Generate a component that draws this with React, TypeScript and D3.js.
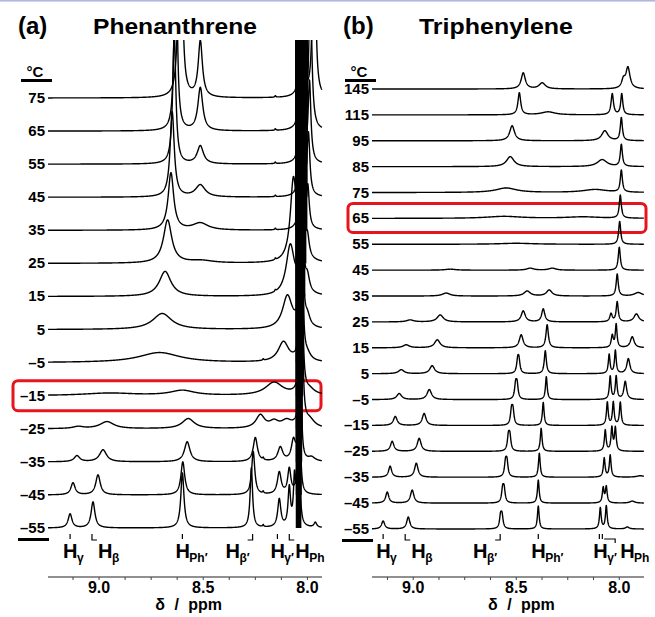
import React, { useEffect, useRef } from 'react';
import * as d3 from 'd3';

// peak = [ppm, intensity, half width (ppm)]
type Peak = [number, number, number];

const phenTemps = [75, 65, 55, 45, 35, 25, 15, 5, -5, -15, -25, -35, -45, -55];
const phenPeaks: Peak[][] = [
  [[8.61, 500, 0.006], [8.514, 56, 0.012], [8.154, 1.5, 0.003], [8.029, 400, 0.004], [7.968, 300, 0.006]],
  [[8.632, 250, 0.007], [8.514, 43, 0.014], [8.154, 1.5, 0.003], [8.029, 400, 0.004], [7.986, 150, 0.008]],
  [[8.639, 130, 0.009], [8.514, 18, 0.018], [8.154, 1.5, 0.003], [8.029, 400, 0.004], [7.99, 80, 0.008]],
  [[8.649, 85, 0.012], [8.514, 12, 0.028], [8.154, 1.5, 0.003], [8.029, 400, 0.004], [7.995, 60, 0.008]],
  [[8.655, 57, 0.016], [8.514, 7, 0.045], [8.154, 1.5, 0.003], [8.029, 400, 0.004], [7.998, 40, 0.008]],
  [[8.671, 43, 0.024], [8.51, 2.5, 0.07], [8.154, 1.5, 0.003], [8.067, 82, 0.018], [8.029, 400, 0.004], [8.0, 20, 0.01]],
  [[8.683, 25, 0.034], [8.154, 1.5, 0.003], [8.082, 50, 0.024], [8.029, 400, 0.004], [8.0, 15, 0.012]],
  [[8.697, 16, 0.055], [8.096, 33, 0.028], [8.029, 400, 0.004], [8.0, 10, 0.015]],
  [[8.71, 10, 0.12], [8.212, 1.5, 0.003], [8.115, 20, 0.03], [8.029, 400, 0.004], [8.0, 6, 0.02]],
  [[8.95, 2.5, 0.15], [8.6, 5, 0.07], [8.16, 13, 0.05], [8.029, 400, 0.004], [7.99, 5, 0.03]],
  [[9.1, 2, 0.03], [8.962, 7, 0.04], [8.572, 10, 0.035], [8.226, 13, 0.025], [8.16, 6, 0.025], [8.1, 7, 0.03], [8.029, 400, 0.004], [7.99, 8, 0.03]],
  [[9.106, 6, 0.016], [8.981, 12, 0.02], [8.577, 20, 0.016], [8.25, 24, 0.012], [8.212, 2, 0.003], [8.13, 14, 0.014], [8.067, 20, 0.012], [8.035, 400, 0.003], [7.98, 4, 0.02]],
  [[9.125, 12, 0.012], [9.005, 20, 0.013], [8.598, 33, 0.011], [8.26, 43, 0.009], [8.212, 2, 0.003], [8.135, 22, 0.011], [8.087, 25, 0.009], [8.04, 400, 0.003]],
  [[9.139, 14, 0.011], [9.029, 26, 0.011], [8.6, 55, 0.009], [8.269, 60, 0.007], [8.212, 2, 0.003], [8.135, 28, 0.009], [8.087, 38, 0.007], [8.062, 45, 0.006], [8.043, 400, 0.003], [7.962, 5, 0.008]],
];
// off-scale H_Ph signal: [from ppm, to ppm]
const phenBands: [number, number][] = [
  [8.058, 7.998], [8.058, 7.998], [8.058, 8.0], [8.058, 8.0], [8.058, 8.0], [8.056, 8.005], [8.056, 8.01],
  [8.056, 8.015], [8.056, 8.02], [8.056, 8.02], [8.056, 8.022], [8.056, 8.025], [8.056, 8.027], [8.056, 8.029],
];

const triTemps = [145, 115, 95, 85, 75, 65, 55, 45, 35, 25, 15, 5, -5, -15, -25, -35, -45, -55];
const triPeaks: Peak[][] = [
  [[8.466, 16, 0.012], [8.374, 6, 0.018], [7.98, 8, 0.01], [7.958, 21, 0.012]],
  [[8.485, 22, 0.008], [8.345, 3, 0.04], [8.034, 21, 0.007], [7.988, 21, 0.006]],
  [[8.52, 15, 0.014], [8.07, 10, 0.018], [7.99, 23, 0.006]],
  [[8.529, 10, 0.022], [8.083, 7, 0.028], [7.99, 22, 0.006]],
  [[8.549, 4.5, 0.06], [8.117, 3, 0.07], [7.99, 22, 0.006]],
  [[8.56, 2, 0.1], [8.175, 1.5, 0.1], [7.995, 23, 0.006]],
  [[8.5, 1, 0.1], [7.998, 23, 0.006]],
  [[8.82, 1, 0.03], [8.432, 2, 0.02], [8.325, 2, 0.02], [8.0, 23, 0.006]],
  [[8.84, 3, 0.022], [8.447, 5, 0.018], [8.34, 6, 0.016], [8.01, 22, 0.006], [7.908, 3.5, 0.022]],
  [[9.015, 2, 0.02], [8.869, 7, 0.018], [8.466, 11, 0.012], [8.369, 13, 0.009], [8.04, 8, 0.007], [8.01, 20, 0.006], [7.917, 8, 0.014]],
  [[9.034, 3, 0.018], [8.883, 8, 0.016], [8.476, 13, 0.011], [8.35, 23, 0.007], [8.034, 12, 0.006], [8.015, 23, 0.005], [7.937, 11, 0.011]],
  [[9.058, 4, 0.016], [8.908, 8, 0.014], [8.493, 12, 0.006], [8.487, 12, 0.006], [8.359, 23, 0.006], [8.049, 19, 0.005], [8.019, 23, 0.005], [7.956, 15, 0.009]],
  [[9.068, 6, 0.014], [8.922, 10, 0.013], [8.503, 14, 0.006], [8.496, 14, 0.006], [8.354, 23, 0.005], [8.044, 23, 0.005], [8.015, 23, 0.005], [7.971, 18, 0.008]],
  [[9.087, 9, 0.011], [8.947, 12, 0.011], [8.523, 14, 0.006], [8.516, 14, 0.006], [8.369, 23, 0.005], [8.058, 23, 0.005], [8.029, 23, 0.005], [7.995, 23, 0.005]],
  [[9.102, 10, 0.01], [8.971, 13, 0.011], [8.538, 14, 0.006], [8.531, 14, 0.006], [8.379, 23, 0.005], [8.068, 21, 0.005], [8.036, 23, 0.005], [8.019, 23, 0.005]],
  [[9.112, 11, 0.009], [8.985, 14, 0.01], [8.552, 14, 0.006], [8.545, 14, 0.006], [8.388, 24, 0.005], [8.073, 19, 0.005], [8.044, 22, 0.005], [7.898, 1.5, 0.02]],
  [[9.126, 11, 0.009], [9.005, 13, 0.01], [8.566, 13, 0.006], [8.559, 13, 0.006], [8.393, 23, 0.005], [8.078, 15, 0.005], [8.063, 16, 0.005], [7.937, 2, 0.014]],
  [[9.146, 8, 0.009], [9.024, 12, 0.009], [8.576, 12, 0.006], [8.569, 12, 0.006], [8.393, 23, 0.005], [8.092, 21, 0.005], [8.063, 23, 0.005], [7.961, 2, 0.01]],
];

const ppmTicks = [9.0, 8.5, 8.0];

// [subscript, ppm, marker]
const phenLabels: [string, number, string][] = [
  ['γ', 9.139, 'tick'], ['β', 9.034, 'left'], ['Ph′', 8.6, 'tick'],
  ['β′', 8.263, 'right'], ['γ′', 8.144, 'tick'], ['Ph', 8.087, 'left'],
];
const triLabels: [string, number, string][] = [
  ['γ', 9.146, 'tick'], ['β', 9.039, 'left'], ['β′', 8.578, 'right'],
  ['Ph′', 8.393, 'tick'], ['γ′', 8.087, 'double'], ['Ph', 8.02, 'hook'],
];

const FONT = '"Liberation Sans", Arial, Helvetica, sans-serif';

const lorentz = (peaks: Peak[], p: number) =>
  d3.sum(peaks, ([c, h, w]) => (h * w * w) / ((p - c) * (p - c) + w * w));

function drawPanel(svg: any, cfg: any) {
  const x = d3.scaleLinear().domain(cfg.domain).range(cfg.range);
  const y = d3.scalePoint<number>().domain(cfg.temps).range(cfg.rows);
  const inten = d3.scaleLinear().domain([0, 100]).range([0, 100]);
  const [x0, x1] = cfg.range;
  const g = svg.append('g').attr('font-family', FONT).attr('font-weight', 'bold');

  g.append('text').attr('x', cfg.letterX).attr('y', 34).attr('font-size', 24).text(cfg.letter);
  g.append('text').attr('x', cfg.titleX).attr('y', 34).attr('font-size', 22)
    .attr('textLength', cfg.titleLen).attr('lengthAdjust', 'spacingAndGlyphs').text(cfg.title);

  // highlight box
  const by = y(cfg.boxTemp)!;
  g.append('rect').attr('x', cfg.box[0]).attr('y', by + cfg.box[2])
    .attr('width', cfg.box[1] - cfg.box[0]).attr('height', cfg.box[3] - cfg.box[2])
    .attr('rx', 5).attr('fill', 'none').attr('stroke', '#e8141c').attr('stroke-width', 3);

  const clipId = 'clip-' + cfg.id;
  svg.append('clipPath').attr('id', clipId).append('rect')
    .attr('x', x0 - 2).attr('y', cfg.clipTop).attr('width', x1 - x0 + 4).attr('height', 600);

  const samples = d3.range(cfg.domain[0], cfg.domain[1], -0.0008);
  const traces = g.append('g').attr('clip-path', `url(#${clipId})`);

  cfg.temps.forEach((t: number, i: number) => {
    const base = y(t)!;
    const pts = samples.map((p: number) => [p, lorentz(cfg.peaks[i], p)]);
    const line = d3.line<number[]>().x(d => x(d[0])).y(d => base - inten(d[1]));
    traces.append('path').attr('d', line(pts)).attr('fill', 'none')
      .attr('stroke', '#000').attr('stroke-width', 1.4).attr('stroke-linejoin', 'round');
    if (cfg.bands) {
      const [b0, b1] = cfg.bands[i];
      traces.append('rect').attr('x', x(b0)).attr('width', x(b1) - x(b0))
        .attr('y', cfg.clipTop).attr('height', base - cfg.clipTop).attr('fill', '#000');
    }
    g.append('text').attr('x', x0 - 3).attr('y', base + 5).attr('text-anchor', 'end')
      .attr('font-size', 15).text(t < 0 ? '–' + Math.abs(t) : String(t));
  });

  // °C header and bottom rule
  const bot = cfg.rows[1];
  g.append('text').attr('x', x0 - 13).attr('y', 77).attr('text-anchor', 'middle').attr('font-size', 15).text('°C');
  g.append('rect').attr('x', x0 - 27).attr('y', 79).attr('width', 31).attr('height', 3).attr('fill', '#000');
  g.append('rect').attr('x', x0 - 30).attr('y', bot + 10).attr('width', 31).attr('height', 3).attr('fill', '#000');

  // peak assignments
  const ly = 558;
  cfg.labels.forEach(([sub, ppm, kind]: [string, number, string]) => {
    const mx = x(ppm);
    const t = g.append('text').attr('y', ly).attr('font-size', 20);
    const mark = (d: string) => g.append('path').attr('d', d).attr('fill', 'none').attr('stroke', '#000').attr('stroke-width', 1.2);
    if (kind === 'tick') {
      t.attr('x', mx - 7);
      mark(`M${mx},534V539`);
    } else if (kind === 'double') {
      t.attr('x', mx - 8);
      mark(`M${mx - 2},534V539M${mx + 1},534V539`);
    } else if (kind === 'left') {
      t.attr('x', mx + 6);
      mark(`M${mx},534V540H${mx + 5}`);
    } else if (kind === 'right') {
      t.attr('x', mx - 3).attr('text-anchor', 'end');
      mark(`M${mx},534V540H${mx - 5}`);
    } else if (kind === 'hook') {
      t.attr('x', mx + 5);
      mark(`M${mx - 11},539H${mx}V543`);
    }
    t.append('tspan').text('H');
    t.append('tspan').attr('font-size', 12).attr('dy', 4).attr('dx', -0.5).text(sub);
  });

  // ppm axis
  g.append('line').attr('x1', x0).attr('x2', x1).attr('y1', 577).attr('y2', 577)
    .attr('stroke', '#222').attr('stroke-width', 1.2);
  const minor = d3.range(9.125, cfg.domain[1], -0.125);
  g.selectAll(null).data(minor).enter().append('line')
    .attr('x1', (d: number) => x(d)).attr('x2', (d: number) => x(d))
    .attr('y1', 577).attr('y2', 580).attr('stroke', '#444').attr('stroke-width', 1);
  g.selectAll(null).data(ppmTicks).enter().append('text')
    .attr('x', (d: number) => x(d)).attr('y', 593).attr('text-anchor', 'middle')
    .attr('font-size', 16).text((d: number) => d3.format('.1f')(d));
  g.append('text').attr('x', x(cfg.titlePpm)).attr('y', 610).attr('text-anchor', 'middle')
    .attr('font-size', 16).attr('word-spacing', 5).text('δ / ppm');
}

export default function App() {
  const ref = useRef<SVGSVGElement>(null);

  useEffect(() => {
    const svg = d3.select(ref.current);
    svg.selectAll('*').remove();
    svg.append('rect').attr('width', 655).attr('height', 617).attr('fill', '#fff');
    svg.append('rect').attr('width', 655).attr('height', 1.6).attr('fill', '#b4b6e2');

    drawPanel(svg, {
      id: 'a', domain: [9.245, 7.93], range: [48, 322], rows: [98, 528], clipTop: 40,
      temps: phenTemps, peaks: phenPeaks, bands: phenBands, labels: phenLabels,
      letter: '(a)', letterX: 18, title: 'Phenanthrene', titleX: 93, titleLen: 164,
      boxTemp: -15, box: [13, 321, -15, 15], titlePpm: 8.57,
    });
    drawPanel(svg, {
      id: 'b', domain: [9.2, 7.88], range: [372, 644], rows: [89, 529], clipTop: 40,
      temps: triTemps, peaks: triPeaks, bands: null, labels: triLabels,
      letter: '(b)', letterX: 343, title: 'Triphenylene', titleX: 419, titleLen: 154,
      boxTemp: 65, box: [348, 646, -15, 14], titlePpm: 8.475,
    });
  }, []);

  return (
    <svg ref={ref} width={655} height={617}
      style={{ position: 'absolute', left: 0, top: 0, display: 'block' }} />
  );
}
